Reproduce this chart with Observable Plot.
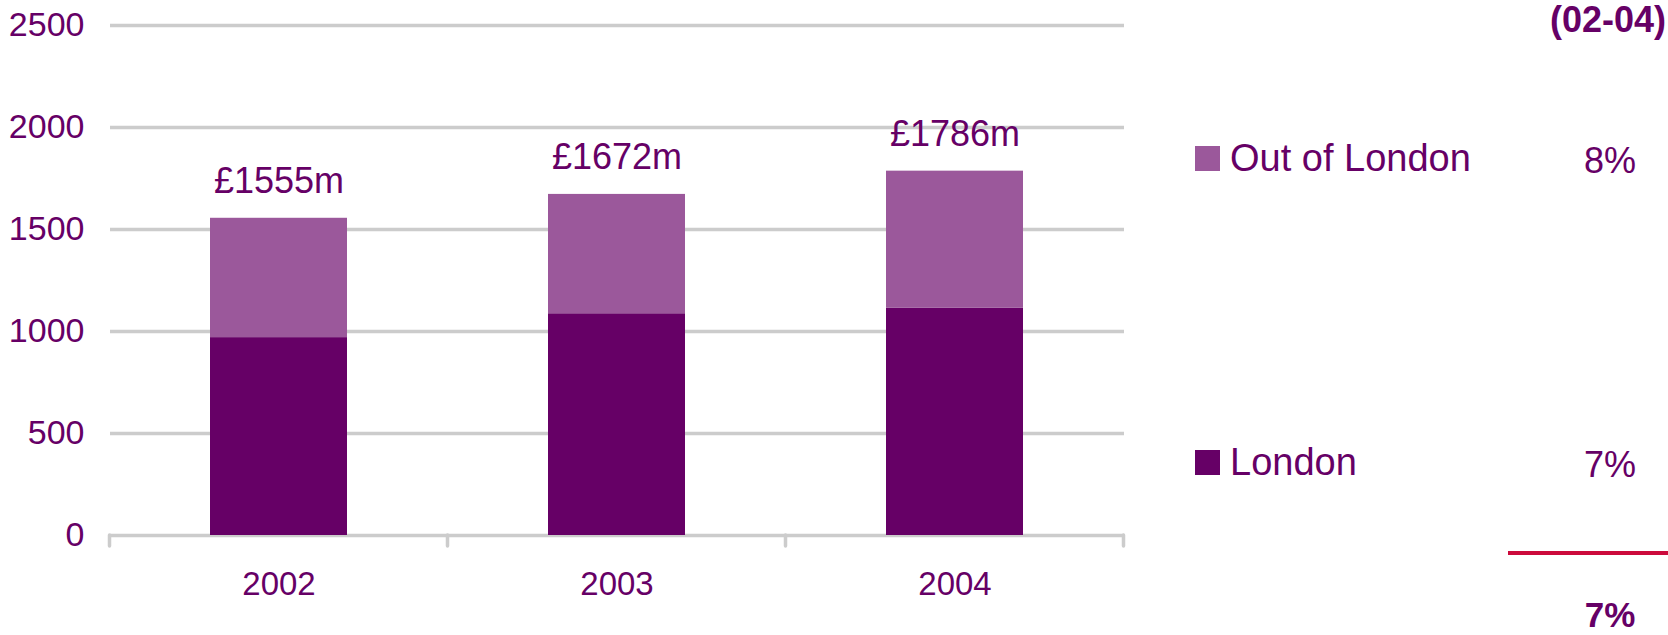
<!DOCTYPE html>
<html>
<head>
<meta charset="utf-8">
<script src="https://cdn.jsdelivr.net/npm/d3@7"></script>
<script src="https://cdn.jsdelivr.net/npm/@observablehq/plot@0.6"></script>
<style>
  html, body { margin: 0; padding: 0; background: #fff; }
  #wrap { position: relative; width: 1668px; height: 635px; font-family: "Liberation Sans", Arial, sans-serif; color: #660066; }
  #wrap svg { position: absolute; left: 0; top: 0; }
</style>
</head>
<body>
<div id="wrap"></div>
<script>
// ---- data ----
const years = ["2002", "2003", "2004"];
const seriesNames = ["London", "Out of London"];
const londonValues = [970, 1087, 1115];
const outOfLondonValues = [585, 585, 671];
const totalValues = [1555, 1672, 1786];
const yTicks = [0, 500, 1000, 1500, 2000, 2500];
const growthHeader = "(02-04)";
const growthOut = "8%";
const growthLondon = "7%";
const growthTotal = "7%";

const colors = { "London": "#660066", "Out of London": "#9b589b" };
const textColor = "#660066";
const gridColor = "#cccccc";

const rows = [];
years.forEach((y, i) => {
  rows.push({ year: y, series: "London", value: londonValues[i] });
  rows.push({ year: y, series: "Out of London", value: outOfLondonValues[i] });
});
const totals = years.map((y, i) => ({ year: y, total: totalValues[i] }));

// tick marks at category boundaries, computed from the band scale
const boundaryTicks = (index, scales, values, dimensions) => {
  const x = scales.x, y = scales.y;
  const bw = typeof x.bandwidth === "function" ? x.bandwidth() : 0;
  const step = typeof x.step === "function" ? x.step() : (x(years[1]) - x(years[0]));
  const centers = years.map(d => x(d) + bw / 2);
  const bounds = [centers[0] - step / 2, ...centers.map(c => c + step / 2)];
  const y0 = y(0);
  const g = d3.create("svg:g");
  g.selectAll("line").data(bounds).join("line")
    .attr("x1", d => d).attr("x2", d => d)
    .attr("y1", y0).attr("y2", y0 + 11)
    .attr("stroke", gridColor).attr("stroke-width", 3.5).attr("stroke-linecap", "round");
  return g.node();
};

const chart = Plot.plot({
  width: 1668,
  height: 635,
  marginLeft: 110,
  marginRight: 544,
  marginTop: 25,
  marginBottom: 100,
  style: { fontFamily: '"Liberation Sans", Arial, sans-serif', fontSize: "34px", color: textColor, background: "transparent", overflow: "visible" },
  x: { domain: years, paddingInner: 0.594, paddingOuter: 0.297, label: null },
  y: { domain: [0, 2500], label: null },
  color: { domain: ["Out of London", "London"], range: [colors["Out of London"], colors["London"]] },
  marks: [
    Plot.ruleY(yTicks, { stroke: gridColor, strokeWidth: 3.5 }),
    boundaryTicks,
    Plot.barY(rows, { x: "year", y: "value", fill: "series", order: seriesNames }),
    Plot.text(totals, { x: "year", y: "total", text: d => "£" + d.total + "m", dy: -25, lineAnchor: "bottom", fontSize: 36, fill: textColor }),
    Plot.axisY({ ticks: yTicks, tickFormat: d => String(d), tickSize: 0, tickPadding: 26, fontSize: 34, fill: textColor }),
    Plot.axisX({ tickSize: 0, tickPadding: 36, fontSize: 33, fill: textColor })
  ]
});
document.getElementById("wrap").appendChild(chart);

// ---- legend and growth column (overlay) ----
const ov = d3.select("#wrap").append("svg")
  .attr("width", 1668).attr("height", 635)
  .style("font-family", '"Liberation Sans", Arial, sans-serif');

const legendItems = [
  { name: "Out of London", growth: growthOut, top: 146 },
  { name: "London", growth: growthLondon, top: 450 }
];
legendItems.forEach(it => {
  ov.append("rect").attr("x", 1195).attr("y", it.top).attr("width", 25).attr("height", 25).attr("fill", colors[it.name]);
  ov.append("text").attr("x", 1230).attr("y", it.top + 25).attr("font-size", 38).attr("fill", textColor).text(it.name);
  ov.append("text").attr("x", 1610).attr("y", it.top + 27).attr("text-anchor", "middle").attr("font-size", 36).attr("fill", textColor).text(it.growth);
});
ov.append("text").attr("x", 1666).attr("y", 32).attr("text-anchor", "end").attr("font-size", 36).attr("font-weight", "bold").attr("fill", textColor).text(growthHeader);
ov.append("line").attr("x1", 1508).attr("x2", 1668).attr("y1", 553).attr("y2", 553).attr("stroke", "#cc0a3c").attr("stroke-width", 4);
ov.append("text").attr("x", 1610).attr("y", 627).attr("text-anchor", "middle").attr("font-size", 35).attr("font-weight", "bold").attr("fill", textColor).text(growthTotal);
</script>
</body>
</html>
